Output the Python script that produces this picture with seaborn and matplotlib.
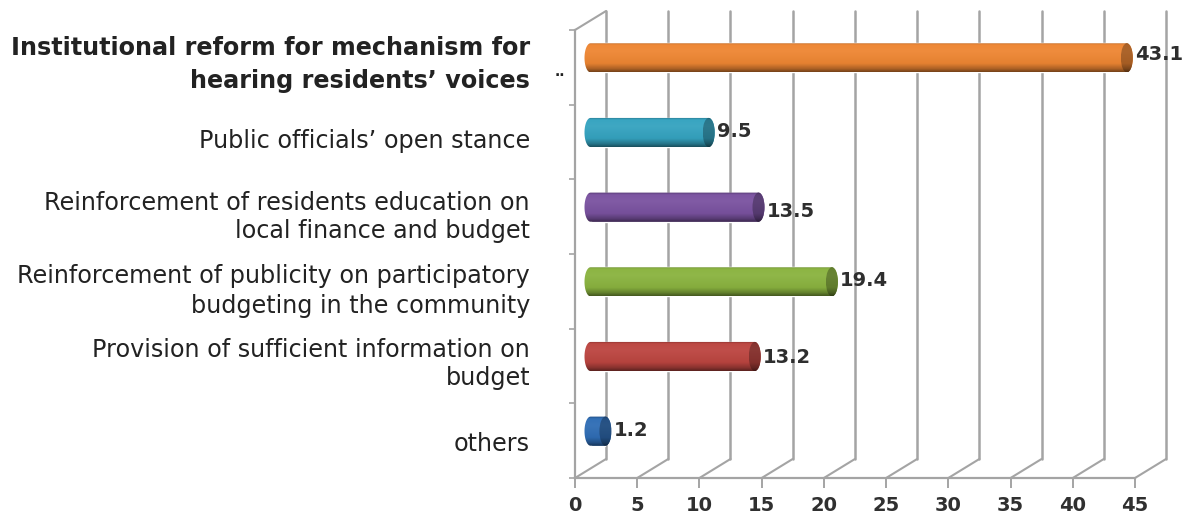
import numpy as np
import pandas as pd
import matplotlib
matplotlib.use("Agg")
import matplotlib.pyplot as plt
from matplotlib.patches import PathPatch, Ellipse
from matplotlib.path import Path
from matplotlib.transforms import Affine2D
import seaborn as sns

measures = [
    "Institutional reform for mechanism for\nhearing residents\u2019 voices",
    "Public officials\u2019 open stance",
    "Reinforcement of residents education on\nlocal finance and budget",
    "Reinforcement of publicity on participatory\nbudgeting in the community",
    "Provision of sufficient information on\nbudget",
    "others",
]
shares = [43.1, 9.5, 13.5, 19.4, 13.2, 1.2]
bar_colors = ["#EE8633", "#35A3C0", "#7A52A0", "#8AB33F", "#BC4540", "#2F6DB5"]
x_ticks = list(range(0, 50, 5))
label_shift = [3, 1, 0, 0, 2, -3]
line_gap = [1.45, 1.3, 1.2, 1.3, 1.2, 1.3]
value_shift = [3, 1, -4, 1, -1, 1]

W, H = 1193, 520
FRONT_L, FRONT_R, FRONT_T, FRONT_B = 575, 1135, 30, 478
DEPTH_X, DEPTH_Y = 31, 19
WALL = "#a4a4a4"

sns.set_theme(style="white")
plt.rcParams["font.family"] = ["DejaVu Sans"]

fig = plt.figure(figsize=(W / 100, H / 100), dpi=100, facecolor="white")
ax = fig.add_axes([FRONT_L / W, 1 - FRONT_B / H, (FRONT_R - FRONT_L) / W, (FRONT_B - FRONT_T) / H])
ax.patch.set_alpha(0)

df = pd.DataFrame({"measure": measures, "share": shares})
sns.barplot(data=df, y="measure", x="share", hue="measure", palette=bar_colors,
            legend=False, width=0.39, orient="h", ax=ax, zorder=3)
ax.set_xlim(0, 45)
ax.set_ylim(5.5, -0.5)
ax.set_xlabel("")
ax.set_ylabel("")

# Everything behind the front plane is shifted along the depth vector, in pixels
back = ax.transData + Affine2D().translate(DEPTH_X, DEPTH_Y)
mid = ax.transData + Affine2D().translate(DEPTH_X / 2, DEPTH_Y / 2)
for tick in x_ticks:
    ax.plot([tick, tick], [5.5, -0.5], color=WALL, lw=1.8, transform=back, clip_on=False, zorder=1)
    ax.plot([tick, tick + DEPTH_X / 12.44], [5.5, 5.5 - DEPTH_Y / 74.67], color=WALL, lw=1.5,
            clip_on=False, zorder=1)
ax.plot([0, DEPTH_X / 12.44], [-0.5, -0.5 - DEPTH_Y / 74.67], color=WALL, lw=1.5, clip_on=False, zorder=1)

for name in ("top", "right"):
    ax.spines[name].set_visible(False)
for name in ("left", "bottom"):
    ax.spines[name].set_color(WALL)
    ax.spines[name].set_linewidth(1.6)

ax.set_yticks(np.arange(-0.5, 6.0, 1.0))
ax.set_yticklabels([])
ax.set_xticks(x_ticks)
ax.tick_params(axis="y", length=4, width=1.2, color=WALL, left=True)
ax.tick_params(axis="x", length=7, width=1.4, color=WALL, bottom=True, pad=6,
               labelsize=14, labelcolor="#303030")
for lab in ax.get_xticklabels():
    lab.set_fontweight("bold")


def shade(color, f):
    rgb = np.array(matplotlib.colors.to_rgb(color))
    return rgb * f if f <= 1 else rgb + (1 - rgb) * (f - 1)


# Cylinder look: vertical gradient clipped to a pill outline, with a darker end cap
stops = [0.0, 0.08, 0.30, 0.72, 0.90, 1.0]
levels = [0.74, 1.02, 1.05, 0.96, 0.72, 0.50]
rx = 6 / 12.44
arc = np.linspace(0, np.pi, 24)
for i, (bar, color) in enumerate(zip(ax.patches, bar_colors)):
    bar.set_transform(mid)
    bar.set_clip_on(False)
    y0, h, val = bar.get_y(), bar.get_height(), bar.get_width()
    rows = np.linspace(0, 1, 40)
    ramp = np.array([[np.interp(r, stops, [shade(color, l)[c] for l in levels]) for c in range(3)] for r in rows])

    # Outline: semi-ellipse at each end of the bar
    yc = y0 + h / 2
    outline = np.vstack([
        np.column_stack([val + rx * np.sin(arc), yc - h / 2 * np.cos(arc)]),
        np.column_stack([-rx * 0 - rx * np.sin(arc), yc + h / 2 * np.cos(arc)]),
    ])
    body = PathPatch(Path(np.vstack([outline, outline[:1]]), closed=True), transform=mid,
                     facecolor="none", edgecolor="none", clip_on=False)
    ax.add_patch(body)
    img = ax.imshow(ramp[:, None, :], extent=(-rx, val + rx, y0 + h, y0), aspect="auto",
                    transform=mid, zorder=4, interpolation="bilinear")
    img.set_clip_path(body)

    cap = Ellipse((val, yc), 2 * rx, h, transform=mid, facecolor="none", edgecolor="none", clip_on=False)
    ax.add_patch(cap)
    cap_img = ax.imshow(ramp[:, None, :] * 0.72, extent=(val - rx, val + rx, y0 + h, y0), aspect="auto",
                        transform=mid, zorder=5, interpolation="bilinear")
    cap_img.set_clip_path(cap)

    ax.annotate(f"{val}", (val, i), xycoords=mid, xytext=(rx * 12.44 + 2, value_shift[i]),
                textcoords="offset pixels", va="center", ha="left", fontsize=14, fontweight="bold",
                color="#2e2e2e", zorder=6, annotation_clip=False)
    ax.annotate(measures[i], (0, i), xycoords="data", xytext=(-45, label_shift[i]),
                textcoords="offset pixels", ha="right", va="center", fontsize=17.2,
                linespacing=line_gap[i], color="#222222", fontweight="bold" if i == 0 else "normal",
                annotation_clip=False)

ax.set_xlim(0, 45)
ax.set_ylim(5.5, -0.5)
ax.annotate("..", (0, 0), xycoords="data", xytext=(-10, -5), textcoords="offset pixels",
            ha="right", va="center", fontsize=10, fontweight="bold", color="#222222",
            annotation_clip=False)

fig.savefig("out.png", dpi=100, facecolor="white")
